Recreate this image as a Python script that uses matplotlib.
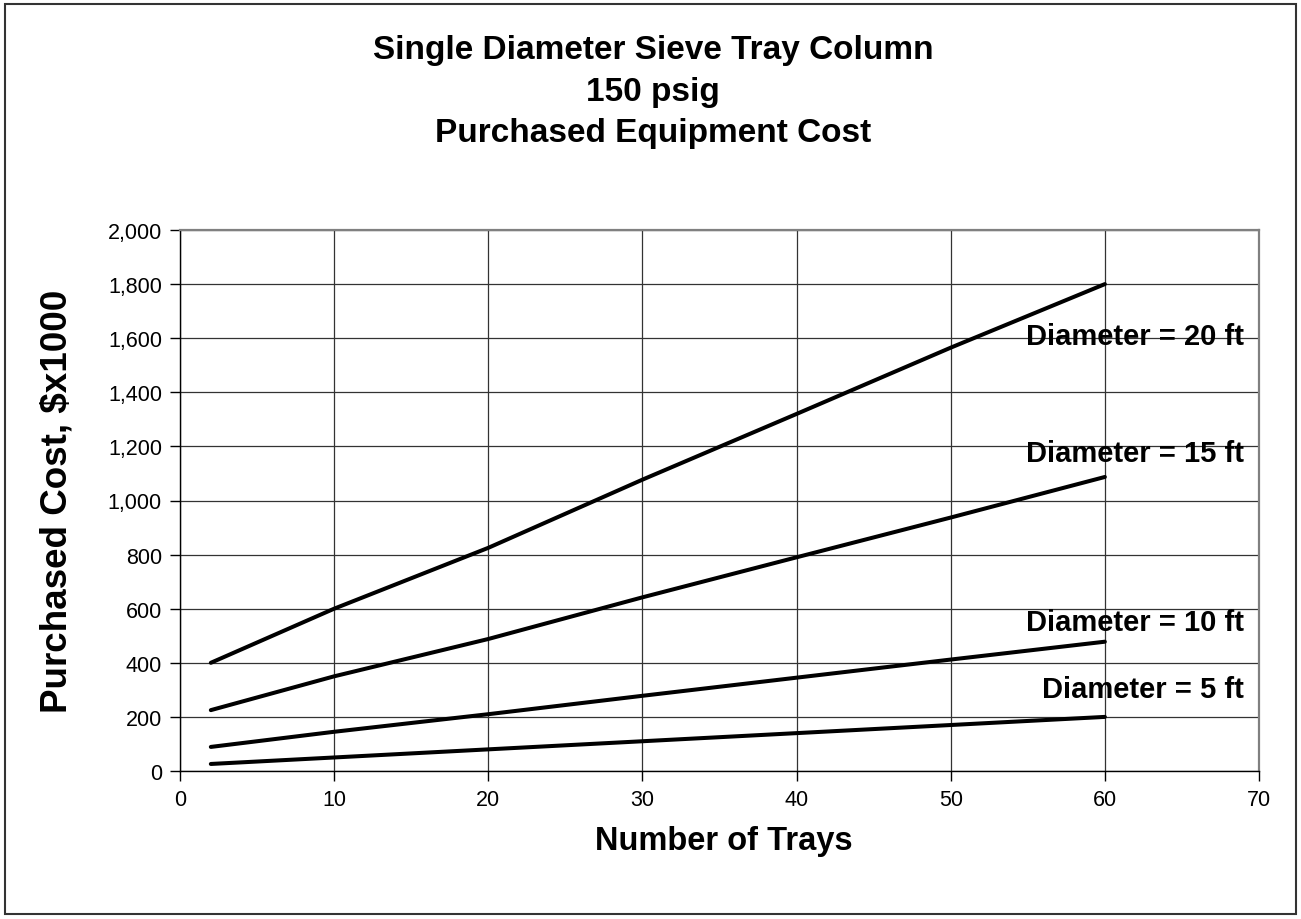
import matplotlib
matplotlib.use("Agg")
import matplotlib.pyplot as plt
from matplotlib.patches import Rectangle

plt.rcParams['font.family'] = ['Liberation Sans', 'DejaVu Sans']

trays = [2, 10, 20, 30, 40, 50, 60]
cost_5ft = [26, 50, 80, 110, 140, 170, 200]
cost_10ft = [89, 145, 210, 278, 345, 412, 478]
cost_15ft = [225, 350, 488, 642, 790, 937, 1087]
cost_20ft = [400, 600, 825, 1077, 1320, 1565, 1800]
series = [cost_5ft, cost_10ft, cost_15ft, cost_20ft]
labels = ["Diameter = 5 ft", "Diameter = 10 ft", "Diameter = 15 ft", "Diameter = 20 ft"]
label_y = [303, 551, 1176, 1608]

W, H = 1301, 920
fig = plt.figure(figsize=(W / 100, H / 100), dpi=100)
ax = fig.add_axes([180 / W, 1 - 772 / H, (1259 - 180) / W, (772 - 231) / H])

for ys in series:
    ax.plot(trays, ys, color='black', lw=2.9, solid_capstyle='round', zorder=3)

for lab, ly in zip(labels, label_y):
    ax.text(69.05, ly, lab, ha='right', va='center', fontsize=21, fontweight='bold', zorder=4)

ax.set_xlim(0, 70)
ax.set_ylim(0, 2000)
ax.set_xticks(range(0, 71, 10))
ax.set_yticks(range(0, 2001, 200))
ax.set_yticklabels([f"{v:,}" for v in range(0, 2001, 200)])
ax.grid(True, color='#333333', lw=0.9)
ax.set_axisbelow(True)
for s in ['top', 'right']:
    ax.spines[s].set_color('#808080')
    ax.spines[s].set_linewidth(1.6)
for s in ['left', 'bottom']:
    ax.spines[s].set_color('black')
    ax.spines[s].set_linewidth(1.0)
ax.tick_params(direction='out', length=7, width=1, labelsize=15.5, pad=6)

ax.set_xlabel("Number of Trays", fontsize=23.5, fontweight='bold')
ax.xaxis.set_label_coords((724 - 180) / 1079, -(826 - 772) / 541)
ax.set_ylabel("Purchased Cost, $x1000", fontsize=26.5, fontweight='bold')
ax.yaxis.set_label_coords((75 - 180) / 1079, 0.5)

fig.text(653 / W, 1 - 92 / H, "Single Diameter Sieve Tray Column\n150 psig\nPurchased Equipment Cost",
         ha='center', va='center', fontsize=24, fontweight='bold', linespacing=1.45)

fig.patches.append(Rectangle((5 / W, 5 / H), 1 - 10 / W, 1 - 10 / H, transform=fig.transFigure,
                             fill=False, edgecolor='#333333', lw=1.5))

fig.savefig("out.png", dpi=100, facecolor='white')
